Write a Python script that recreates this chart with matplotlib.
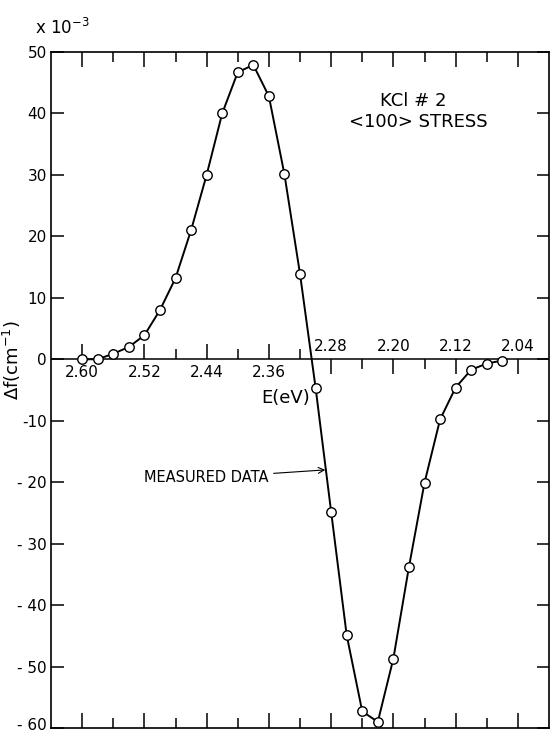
import numpy as np
import matplotlib
matplotlib.use("Agg")
import matplotlib.pyplot as plt
import matplotlib.transforms as mtransforms

plt.rcParams["font.family"] = ["DejaVu Sans"]
plt.rcParams["mathtext.default"] = "regular"

# photon energy (eV) and measured change in f (x 10^-3 cm^-1)
energy = [2.60, 2.58, 2.56, 2.54, 2.52, 2.50, 2.48, 2.46, 2.44, 2.42,
          2.40, 2.38, 2.36, 2.34, 2.32, 2.30, 2.28, 2.26, 2.24, 2.22,
          2.20, 2.18, 2.16, 2.14, 2.12, 2.10, 2.08, 2.06]
delta_f = [0.0, 0.0, 0.9, 2.0, 3.9, 8.0, 13.2, 21.0, 30.0, 40.0,
           46.7, 47.9, 42.8, 30.1, 13.9, -4.6, -24.8, -44.9, -57.3, -59.0,
           -48.7, -33.8, -20.1, -9.8, -4.6, -1.7, -0.7, -0.2]

y_ticks = [50, 40, 30, 20, 10, 0, -10, -20, -30, -40, -50, -60]
y_ticklabels = ["50", "40", "30", "20", "10", "0", "-10", "- 20", "- 30",
                "- 40", "- 50", "- 60"]

# labelled ticks sitting on the zero line
left_major = [2.60, 2.52, 2.44, 2.36]
left_minor = [2.56, 2.48, 2.40, 2.32]
right_major = [2.28, 2.20, 2.12, 2.04]
right_minor = [2.24, 2.16, 2.08]

fig = plt.figure(figsize=(5.5, 7.34), dpi=100)
ax = fig.add_axes([51 / 550, 6 / 734, 498 / 550, 676 / 734])

ax.plot(energy, delta_f, color="black", lw=1.4, marker="o", ms=6.8,
        mfc="white", mec="black", mew=1.0, zorder=3)
ax.axhline(0, color="black", lw=1.1, zorder=1)

ax.set_xlim(2.64, 2.00)
ax.set_ylim(-60, 50)

for s in ax.spines.values():
    s.set_linewidth(1.2)

ax.set_xticks(left_major + right_major)
ax.set_xticks(left_minor + right_minor, minor=True)
ax.tick_params(axis="x", which="both", direction="in", top=True, bottom=True,
               labelbottom=False, width=1.1)
ax.tick_params(axis="x", which="major", length=11)
ax.tick_params(axis="x", which="minor", length=7)

ax.set_yticks(y_ticks)
ax.set_yticklabels(y_ticklabels)
ax.tick_params(axis="y", direction="in", left=True, right=True, length=9,
               width=1.1, labelsize=11, pad=3)
# the lowest label sits on the bottom edge; lift it a little so it stays whole
bottom_lab = ax.get_yticklabels()[-1]
bottom_lab.set_transform(bottom_lab.get_transform() +
                         mtransforms.ScaledTranslation(0, 3 / 72, fig.dpi_scale_trans))

# tick marks along the zero line
sec_l = ax.secondary_xaxis(0, transform=ax.transData)
sec_l.set_alignment("bottom")
sec_l.set_xticks(left_major)
sec_l.set_xticks(left_minor, minor=True)
sec_l.set_xticklabels(["%.2f" % v for v in left_major])
sec_l.tick_params(which="both", direction="in", width=1.1, labelsize=11, pad=4)
sec_l.tick_params(which="major", length=11)
sec_l.tick_params(which="minor", length=7)
sec_l.spines["bottom"].set_visible(False)

sec_r = ax.secondary_xaxis(0, transform=ax.transData)
sec_r.set_alignment("top")
sec_r.set_xticks(right_major)
sec_r.set_xticks(right_minor, minor=True)
sec_r.set_xticklabels(["%.2f" % v for v in right_major])
sec_r.tick_params(which="both", direction="in", width=1.1, labelsize=11, pad=4)
sec_r.tick_params(which="major", length=11)
sec_r.tick_params(which="minor", length=7)
sec_r.spines["top"].set_visible(False)

ax.set_ylabel(r"$\Delta$f(cm$^{-1}$)", fontsize=13)
ax.yaxis.set_label_coords(-0.056, 0.544)

ax.text(0.472, 0.488, "E(eV)", transform=ax.transAxes, fontsize=13,
        ha="center", va="center")
ax.text(-0.032, 1.027, r"x 10$^{-3}$", transform=ax.transAxes, fontsize=12,
        ha="left", va="baseline")

ax.text(0.727, 0.9275, "KCl # 2", transform=ax.transAxes, fontsize=13,
        ha="center", va="center")
ax.text(0.737, 0.896, "<100> STRESS", transform=ax.transAxes, fontsize=13,
        ha="center", va="center")

ax.annotate("MEASURED DATA", xy=(2.2875, -18), xycoords="data",
            xytext=(0.436, 0.37), textcoords="axes fraction",
            fontsize=10.5, ha="right", va="center",
            arrowprops=dict(arrowstyle="->", color="black", lw=0.8,
                            shrinkA=2, shrinkB=0))

fig.savefig("out.png", dpi=100)
